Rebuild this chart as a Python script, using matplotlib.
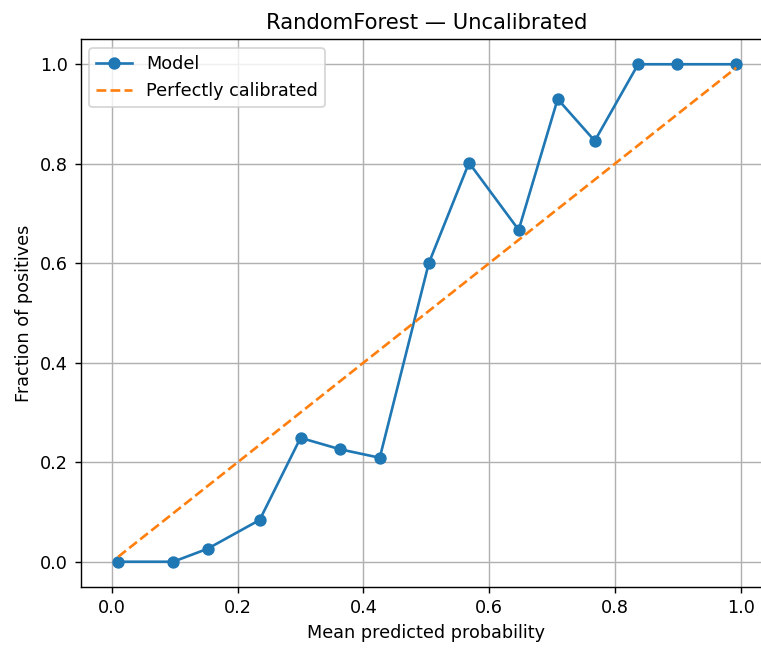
import matplotlib
matplotlib.use("Agg")
import matplotlib.pyplot as plt
import numpy as np

prob_pred = [0.010, 0.0975, 0.152, 0.235, 0.300, 0.363, 0.426, 0.504, 0.568,
             0.647, 0.709, 0.768, 0.837, 0.899, 0.993]
prob_true = [0.0, 0.0, 0.026, 0.084, 0.249, 0.226, 0.209, 0.600, 0.802,
             0.667, 0.930, 0.846, 1.0, 1.0, 1.0]

DPI = 127
fig = plt.figure(figsize=(761 / DPI, 652 / DPI), dpi=DPI)
ax = fig.add_axes([0.1058, 0.1003, 0.9087, 0.8393])

ax.plot(prob_pred, prob_true, marker="o", color="#1f77b4", label="Model")
lo, hi = min(prob_pred), max(prob_pred)
ax.plot([lo, hi], [lo, hi], linestyle="--", color="#ff7f0e",
        label="Perfectly calibrated")

ax.set_xlim(-0.05, 1.05)
ax.set_ylim(-0.05, 1.05)
ax.set_xticks([0.0, 0.2, 0.4, 0.6, 0.8, 1.0])
ax.set_yticks([0.0, 0.2, 0.4, 0.6, 0.8, 1.0])
ax.grid(True)
ax.spines["right"].set_visible(False)
ax.set_xlabel("Mean predicted probability")
ax.set_ylabel("Fraction of positives")
ax.set_title("RandomForest \u2014 Uncalibrated")
ax.legend(loc="upper left")

fig.savefig("out.png", dpi=DPI)
